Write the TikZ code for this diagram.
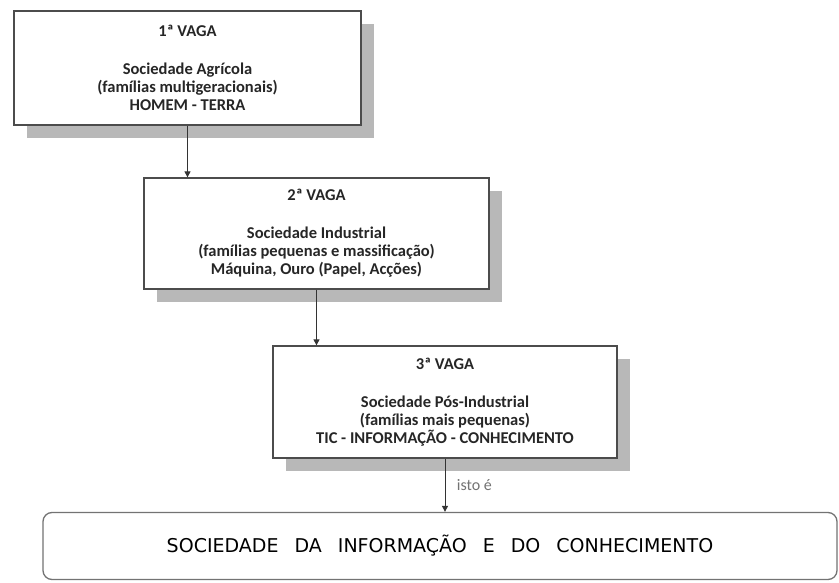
\documentclass[tikz,border=0pt]{standalone}
\usepackage{fontspec}
\setmainfont{Carlito}
\newfontfamily\capsfont{DejaVu Sans}
\usetikzlibrary{arrows.meta,shadows}
\begin{document}
\begin{tikzpicture}[x=1pt,y=-1pt,
  wave/.style={draw=black!70, line width=1.3pt, fill=white, align=center,
    font=\bfseries\fontsize{16.5}{18}\selectfont, text=black!85,
    drop shadow={shadow xshift=13pt, shadow yshift=-13pt, fill=black!28, opacity=1}},
  final/.style={draw=black!55, line width=1.3pt, fill=white, rounded corners=9pt,
    minimum width=794pt, minimum height=67pt, inner sep=0pt},
  arr/.style={draw=black!80, line width=1pt, -{Triangle[length=6pt,width=6pt]}},
  lbl/.style={text=black!55, font=\fontsize{16}{17}\selectfont}]
\useasboundingbox (0,0) rectangle (839,583);
\fill[white] (0,0) rectangle (839,583);
\node[wave, minimum width=347pt, minimum height=114pt] (b1) at (187.5,68)
  {1ª VAGA\\[20pt]Sociedade Agrícola\\(famílias multigeracionais)\\HOMEM - TERRA};
\node[wave, minimum width=345pt, minimum height=111pt] (b2) at (316.5,233.5)
  {2ª VAGA\\[20pt]Sociedade Industrial\\(famílias pequenas e massificação)\\Máquina, Ouro (Papel, Acções)};
\node[wave, minimum width=344pt, minimum height=112pt] (b3) at (445,402)
  {3ª VAGA\\[20pt]Sociedade Pós-Industrial\\(famílias mais pequenas)\\TIC - INFORMAÇÃO - CONHECIMENTO};
\node[final] (b4) at (440,546)
  {\capsfont\fontsize{19}{22}\selectfont SOCIEDADE\hspace{10pt} DA\hspace{10pt} INFORMAÇÃO\hspace{10pt} E\hspace{10pt} DO\hspace{10pt} CONHECIMENTO};
\draw[arr] (b1.south) -- (b2.north -| b1.south);
\draw[arr] (b2.south) -- (b3.north -| b2.south);
\draw[arr] (b3.south) -- node[lbl, right=8pt, pos=0.5] (isto) {isto é} (b4.north -| b3.south);
\end{tikzpicture}
\end{document}
